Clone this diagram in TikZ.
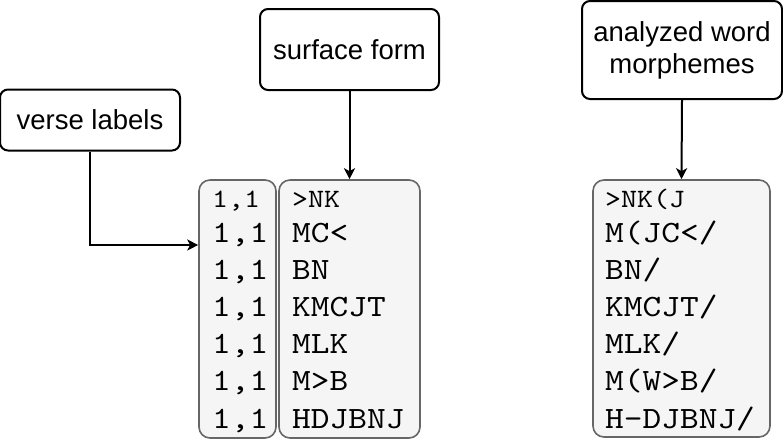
\documentclass[tikz,border=0pt]{standalone}
\usepackage{fontspec}
\setmainfont{Liberation Sans}
\newfontfamily\versemono[Extension=.otf,FakeStretch=1.15]{lmmono10-regular}
\usetikzlibrary{arrows.meta,positioning}
\definecolor{boxgray}{HTML}{666666}
\definecolor{boxfill}{HTML}{F5F5F5}
\tikzset{>={Stealth[length=11pt,width=11pt,inset=3pt]}}
\tikzset{
  caption/.style={draw=black, line width=2pt, rounded corners=8pt, fill=white,
    font=\fontsize{27.5}{32}\selectfont, align=center, inner sep=0pt},
  column/.style={draw=boxgray, line width=1.6pt, rounded corners=11pt, fill=boxfill, inner sep=0pt},
  entry/.style={anchor=base west, inner sep=0pt, font=\versemono\fontsize{31}{31}\selectfont},
  firstentry/.style={entry, font=\versemono\fontsize{26.5}{26.5}\selectfont},
  link/.style={->, line width=2pt}
}
\begin{document}
\begin{tikzpicture}[x=1pt,y=-1pt]
\useasboundingbox (0,0) rectangle (783,442);
% captions
\node[caption, minimum width=180pt, minimum height=61pt] (verse) at (90,120) {verse labels};
\node[caption, minimum width=179pt, minimum height=81pt] (surf) at (349.5,49.5) {surface form};
\node[caption, minimum width=200pt, minimum height=98pt] (ana) at (682,50) {analyzed word\\morphemes};
% columns
\node[column, minimum width=77pt, minimum height=258pt] (labbox) at (237.5,309) {};
\node[column, minimum width=141pt, minimum height=258pt] (surfbox) at (349.5,309) {};
\node[column, minimum width=177pt, minimum height=257pt] (anabox) at (681.5,308.5) {};
% entries
\node[firstentry] (lab1) at (212,207) {1,1};
\node[firstentry] (surf1) at (292,207) {>NK};
\node[firstentry] (ana1) at (605,207) {>NK(J};
\foreach \w/\m [count=\i from 2] in {MC</{M(JC</}, BN/{BN/}, KMCJT/{KMCJT/}, MLK/{MLK/}, M>B/{M(W>B/}, HDJBNJ/{H-DJBNJ/}}
{
  \node[entry] (lab\i) at (212,{242+37.2*(\i-2)}) {1,1};
  \node[entry] (surf\i) at (292,{242+37.2*(\i-2)}) {\w};
  \node[entry] (ana\i) at (605,{242+37.2*(\i-2)}) {\m};
}
% links
\draw[link] (verse.south) |- ([yshift=64pt]labbox.west);
\draw[link] (surf.south) -- (surfbox.north);
\draw[link] (ana.south) -- (anabox.north);
\end{tikzpicture}
\end{document}
